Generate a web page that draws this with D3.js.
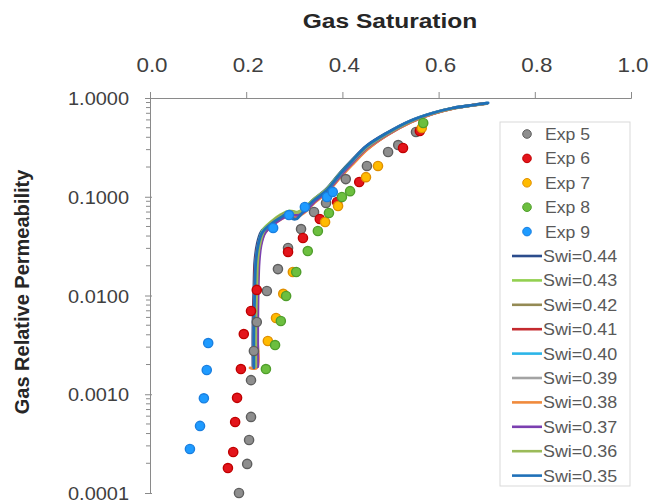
<!DOCTYPE html>
<html>
<head>
<meta charset="utf-8">
<script src="https://cdn.jsdelivr.net/npm/d3@7/dist/d3.min.js"></script>
<style>
  html, body { margin: 0; padding: 0; background: #fff; }
  svg { display: block; font-family: "Liberation Sans", Arial, sans-serif; }
</style>
</head>
<body>
<svg id="chart" width="652" height="504"></svg>
<script>
// ---- Axis ticks ----
const xTicks = [0.0, 0.2, 0.4, 0.6, 0.8, 1.0];
const yTicks = [1, 0.1, 0.01, 0.001, 0.0001];

// ---- Measured gas relative permeability (Sg, krg) ----
const exp5 = [[0.185,0.000100],[0.202,0.000197],[0.206,0.000344],[0.210,0.000590],[0.210,0.00139],
  [0.216,0.00274],[0.222,0.00539],[0.243,0.0111],[0.266,0.0185],[0.287,0.0303],[0.314,0.0471],
  [0.341,0.0701],[0.366,0.0865],[0.407,0.151],[0.451,0.205],[0.495,0.284],[0.516,0.334],[0.553,0.453]];
const exp6 = [[0.162,0.000179],[0.173,0.000260],[0.177,0.000524],[0.181,0.000920],[0.189,0.00180],
  [0.195,0.00407],[0.210,0.00697],[0.222,0.0114],[0.287,0.0276],[0.318,0.0382],[0.353,0.0595],
  [0.389,0.0885],[0.435,0.141],[0.526,0.312],[0.561,0.463]];
const exp7 = [[0.245,0.00346],[0.262,0.00592],[0.277,0.0104],[0.297,0.0173],[0.364,0.0555],
  [0.391,0.0806],[0.449,0.158],[0.474,0.205],[0.565,0.497]];
const exp8 = [[0.241,0.00180],[0.260,0.00315],[0.272,0.00552],[0.283,0.00990],[0.304,0.0173],
  [0.328,0.0282],[0.349,0.0450],[0.372,0.0685],[0.399,0.0994],[0.416,0.114],[0.568,0.558]];
const exp9 = [[0.083,0.000279],[0.104,0.000478],[0.112,0.000910],[0.118,0.00176],[0.121,0.00330],
  [0.256,0.0483],[0.289,0.0653],[0.322,0.0787],[0.368,0.0994],[0.380,0.112]];

// ---- Model curves for each initial water saturation (Sg, krg) ----
const swi044 = [[0.214,0.0019],[0.214,0.0046],[0.216,0.0118],[0.218,0.0225],[0.223,0.0335],[0.231,0.044],
  [0.247,0.0525],[0.268,0.0615],[0.286,0.0675],[0.300,0.061],[0.316,0.071],[0.338,0.092],[0.366,0.119],
  [0.394,0.172],[0.421,0.238],[0.450,0.328],[0.492,0.443],[0.540,0.586],[0.587,0.705],[0.629,0.792],
  [0.670,0.848],[0.700,0.885]];
const swi043 = [[0.217,0.0019],[0.217,0.0045],[0.219,0.0120],[0.221,0.0240],[0.227,0.0360],[0.236,0.047],
  [0.252,0.056],[0.272,0.066],[0.290,0.072],[0.306,0.070],[0.320,0.076],[0.340,0.094],[0.368,0.120],
  [0.395,0.172],[0.422,0.236],[0.451,0.322],[0.493,0.435],[0.541,0.578],[0.588,0.700],[0.630,0.788],
  [0.672,0.846],[0.700,0.880]];
const swi042 = [[0.218,0.0019],[0.218,0.0046],[0.220,0.0118],[0.222,0.0232],[0.228,0.0350],[0.237,0.046],
  [0.253,0.055],[0.273,0.065],[0.291,0.071],[0.307,0.069],[0.321,0.075],[0.341,0.093],[0.369,0.119],
  [0.396,0.170],[0.423,0.232],[0.452,0.318],[0.494,0.432],[0.542,0.575],[0.589,0.698],[0.631,0.786],
  [0.672,0.845],[0.700,0.878]];
const swi041 = [[0.215,0.0019],[0.215,0.0045],[0.217,0.0113],[0.219,0.0215],[0.224,0.0320],[0.232,0.042],
  [0.248,0.0510],[0.269,0.0600],[0.287,0.0655],[0.303,0.0630],[0.318,0.0690],[0.340,0.0880],[0.368,0.112],
  [0.396,0.160],[0.423,0.222],[0.452,0.305],[0.494,0.425],[0.542,0.570],[0.589,0.695],[0.631,0.785],
  [0.672,0.845],[0.700,0.880]];
const swi040 = [[0.216,0.0019],[0.216,0.0045],[0.218,0.0115],[0.220,0.0220],[0.225,0.0328],[0.233,0.0435],
  [0.249,0.0520],[0.270,0.0610],[0.288,0.0665],[0.304,0.0640],[0.319,0.0705],[0.340,0.0910],[0.368,0.117],
  [0.395,0.168],[0.422,0.232],[0.451,0.322],[0.493,0.438],[0.541,0.582],[0.588,0.703],[0.630,0.790],
  [0.672,0.848],[0.701,0.886]];
const swi039 = [[0.219,0.0019],[0.219,0.0046],[0.221,0.0116],[0.223,0.0222],[0.228,0.0330],[0.236,0.0440],
  [0.252,0.0530],[0.273,0.0620],[0.290,0.0670],[0.306,0.0660],[0.320,0.0720],[0.341,0.0920],[0.369,0.118],
  [0.396,0.169],[0.423,0.233],[0.452,0.320],[0.494,0.436],[0.542,0.580],[0.589,0.700],[0.631,0.789],
  [0.672,0.847],[0.700,0.883]];
const swi038 = [[0.208,0.00185],[0.222,0.00185],[0.222,0.0046],[0.223,0.0116],[0.225,0.0220],[0.230,0.0325],
  [0.238,0.0425],[0.254,0.0510],[0.274,0.0600],[0.291,0.0650],[0.307,0.0630],[0.321,0.0690],[0.342,0.0870],
  [0.370,0.112],[0.397,0.160],[0.424,0.220],[0.453,0.305],[0.495,0.428],[0.543,0.572],[0.590,0.697],
  [0.631,0.786],[0.672,0.846],[0.700,0.882]];
const swi037 = [[0.224,0.0019],[0.224,0.0046],[0.225,0.0116],[0.227,0.0220],[0.231,0.0325],[0.239,0.0430],
  [0.255,0.0515],[0.275,0.0605],[0.292,0.0660],[0.308,0.0650],[0.322,0.0710],[0.343,0.0900],[0.370,0.116],
  [0.397,0.166],[0.424,0.230],[0.453,0.318],[0.495,0.435],[0.543,0.580],[0.590,0.701],[0.631,0.789],
  [0.672,0.847],[0.700,0.884]];
const swi036 = [[0.220,0.0019],[0.220,0.0046],[0.222,0.0118],[0.224,0.0228],[0.229,0.0340],[0.237,0.0450],
  [0.253,0.0545],[0.273,0.0640],[0.290,0.0700],[0.306,0.0690],[0.320,0.0740],[0.341,0.0930],[0.369,0.119],
  [0.396,0.171],[0.423,0.235],[0.452,0.322],[0.494,0.437],[0.542,0.580],[0.589,0.701],[0.631,0.789],
  [0.672,0.847],[0.700,0.884]];
const swi035 = [[0.216,0.00185],[0.216,0.0045],[0.218,0.0114],[0.220,0.0218],[0.225,0.0325],[0.233,0.043],
  [0.249,0.0518],[0.270,0.061],[0.287,0.0669],[0.296,0.0600],[0.304,0.0595],[0.318,0.0701],[0.339,0.0906],
  [0.368,0.117],[0.395,0.170],[0.422,0.236],[0.451,0.327],[0.493,0.442],[0.541,0.585],[0.588,0.705],
  [0.630,0.792],[0.672,0.849],[0.703,0.890]];

const expNames  = ["Exp 5", "Exp 6", "Exp 7", "Exp 8", "Exp 9"];
const expFill   = ["#8e8e8e", "#e3141b", "#ffbb00", "#6cbf3f", "#1e9bff"];
const expStroke = ["#5e5e5e", "#c00000", "#e08f00", "#4f9e2b", "#1a7fe0"];
const expData   = [exp5, exp6, exp7, exp8, exp9];

const swiNames  = ["Swi=0.44", "Swi=0.43", "Swi=0.42", "Swi=0.41", "Swi=0.40",
                   "Swi=0.39", "Swi=0.38", "Swi=0.37", "Swi=0.36", "Swi=0.35"];
const swiColors = ["#2b4c8c", "#92d050", "#948a54", "#c42a2f", "#2cb5e8",
                   "#a3a3a3", "#f08a3c", "#7b3fb0", "#9bbb59", "#1f70b8"];
const swiData   = [swi044, swi043, swi042, swi041, swi040, swi039, swi038, swi037, swi036, swi035];

// ---- Layout ----
const svg = d3.select("#chart");
const x = d3.scaleLinear().domain([0, 1]).range([150, 631]);
const y = d3.scaleLog().domain([0.0001, 1]).range([493, 98]);
const axisColor = "#8a8a8a";
const textColor = "#404040";

// stretched text helper (the chart's lettering is slightly wide)
function label(g, px, py, str, opts) {
  const sx = opts.sx || 1.15;
  return g.append("g").attr("transform", `translate(${px},${py}) scale(${sx},1)`)
    .append("text")
    .attr("text-anchor", opts.anchor || "middle")
    .attr("font-size", opts.size)
    .attr("font-weight", opts.bold ? "bold" : "normal")
    .attr("fill", opts.color || textColor)
    .text(str);
}

// top x axis
const xAxis = d3.axisTop(x).tickValues(xTicks).tickSize(6).tickFormat(d3.format(".1f"));
const gx = svg.append("g").attr("transform", `translate(0,${y(1)})`).call(xAxis);
gx.select(".domain").attr("stroke", axisColor);
gx.selectAll(".tick line").attr("stroke", axisColor);
gx.selectAll(".tick text").remove();
xTicks.forEach(v => label(svg, x(v) + 2, 72, d3.format(".1f")(v), {size: 20, sx: 1.12}));

// left log y axis with minor ticks
const minor = [];
for (let e = -4; e < 0; e++) for (let m = 2; m <= 9; m++) minor.push(m * Math.pow(10, e));
const gy = svg.append("g").attr("transform", `translate(${x(0)},0)`);
gy.call(d3.axisLeft(y).tickValues(yTicks).tickSize(4).tickFormat(""));
gy.select(".domain").attr("stroke", axisColor);
gy.selectAll(".tick line").attr("stroke", axisColor).attr("x2", -5).attr("x1", 2);
gy.selectAll(".minor").data(minor).join("line").attr("class", "minor")
  .attr("x1", -4).attr("x2", 1).attr("y1", d => y(d)).attr("y2", d => y(d))
  .attr("stroke", axisColor);
yTicks.forEach(v => label(svg, 129, y(v) + 7, d3.format(".4f")(v), {size: 19, anchor: "end", sx: 1.05}));

// axis titles
label(svg, 390, 28, "Gas Saturation", {size: 21, bold: true, sx: 1.17, color: "#262626"});
svg.append("g").attr("transform", "translate(29,292) rotate(-90)")
  .append("text").attr("text-anchor", "middle").attr("font-size", 20).attr("font-weight", "bold")
  .attr("fill", "#262626").text("Gas Relative Permeability");

// model curves
const line = d3.line().x(d => x(d[0])).y(d => y(d[1])).curve(d3.curveCatmullRom.alpha(0.5));
swiData.forEach((data, i) => {
  svg.append("path").datum(data).attr("d", line)
    .attr("fill", "none").attr("stroke", swiColors[i]).attr("stroke-width", 2.8)
    .attr("stroke-linejoin", "round").attr("stroke-linecap", "round");
});

// measured points
expData.forEach((data, i) => {
  svg.append("g").selectAll("circle").data(data).join("circle")
    .attr("cx", d => x(d[0])).attr("cy", d => y(d[1])).attr("r", 4.6)
    .attr("fill", expFill[i]).attr("stroke", expStroke[i]).attr("stroke-width", 1.4);
});

// legend
const leg = svg.append("g");
leg.append("rect").attr("x", 500).attr("y", 122).attr("width", 130).attr("height", 364)
  .attr("fill", "#fff").attr("stroke", "#d9d9d9");
const rowY = i => 134 + i * 24.4;
expNames.forEach((n, i) => {
  leg.append("circle").attr("cx", 527).attr("cy", rowY(i)).attr("r", 4.3)
    .attr("fill", expFill[i]).attr("stroke", expStroke[i]).attr("stroke-width", 1);
  label(leg, 545, rowY(i) + 6, n, {size: 16, anchor: "start", sx: 1.1, color: "#595959"});
});
swiNames.forEach((n, j) => {
  const i = j + expNames.length;
  leg.append("line").attr("x1", 512).attr("x2", 542).attr("y1", rowY(i)).attr("y2", rowY(i))
    .attr("stroke", swiColors[j]).attr("stroke-width", 2.6);
  label(leg, 543, rowY(i) + 6, n, {size: 16, anchor: "start", sx: 1.12, color: "#595959"});
});
</script>
</body>
</html>
